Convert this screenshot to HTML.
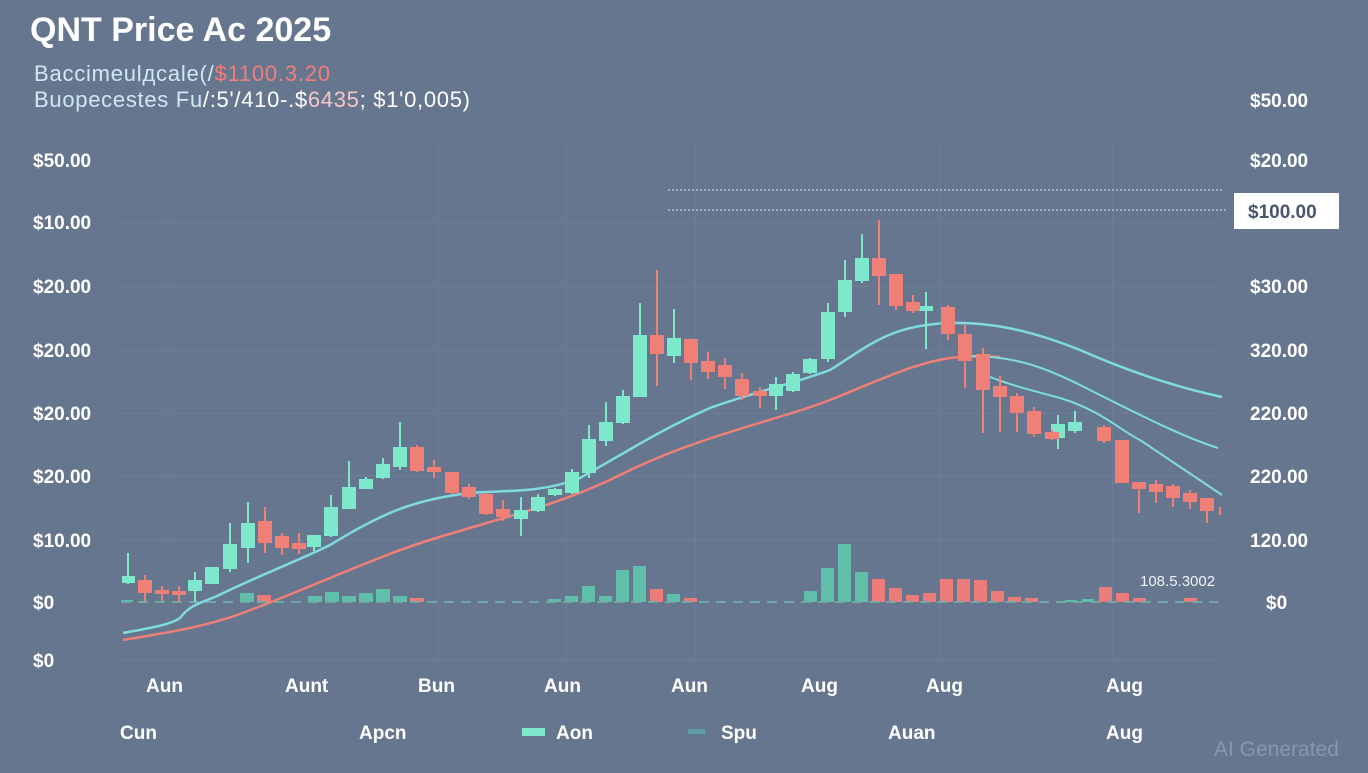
<!DOCTYPE html>
<html><head><meta charset="utf-8"><style>
html,body{margin:0;padding:0;}
body{width:1368px;height:768px;background:#66768f;overflow:hidden;font-family:"Liberation Sans",sans-serif;}
</style></head><body>
<svg width="1368" height="768" viewBox="0 0 1368 768" xmlns="http://www.w3.org/2000/svg" font-family="Liberation Sans, sans-serif">
<rect width="1368" height="768" fill="#66768f"/>
<g stroke="#6d7d96" stroke-width="1">
<line x1="120" y1="222" x2="1222" y2="222"/><line x1="120" y1="286" x2="1222" y2="286"/>
<line x1="120" y1="350" x2="1222" y2="350"/><line x1="120" y1="413" x2="1222" y2="413"/>
<line x1="120" y1="476" x2="1222" y2="476"/><line x1="120" y1="540" x2="1222" y2="540"/>
<line x1="120" y1="660" x2="1222" y2="660"/>
<line x1="168" y1="140" x2="168" y2="660"/><line x1="438" y1="140" x2="438" y2="660"/>
<line x1="566" y1="140" x2="566" y2="660"/><line x1="695" y1="140" x2="695" y2="660"/>
<line x1="940" y1="140" x2="940" y2="660"/><line x1="1113" y1="140" x2="1113" y2="660"/>
</g>
<text x="30" y="41" font-size="34" font-weight="bold" fill="#ffffff">QNT Price Ac 2025</text>
<text x="34" y="81" font-size="22" fill="#cfe8f2" textLength="296">Baccimeulдcale(/<tspan fill="#f07f78">$1100.3.20</tspan></text>
<text x="34" y="107" font-size="22" fill="#cfe8f2" textLength="436">Buopecestes Fu<tspan fill="#ffffff">/:5'/410-.$</tspan><tspan fill="#f4c6c6">6435</tspan><tspan fill="#ffffff">; $1'0,005)</tspan></text>
<g font-size="19" font-weight="bold" fill="#ffffff">
<text x="33" y="167">$50.00</text><text x="33" y="229">$10.00</text><text x="33" y="293">$20.00</text>
<text x="33" y="357">$20.00</text><text x="33" y="420">$20.00</text><text x="33" y="483">$20.00</text>
<text x="33" y="547">$10.00</text><text x="33" y="609">$0</text><text x="33" y="667">$0</text>
<text x="1250" y="107">$50.00</text><text x="1250" y="167">$20.00</text><text x="1250" y="293">$30.00</text>
<text x="1250" y="357">320.00</text><text x="1250" y="420">220.00</text><text x="1250" y="483">220.00</text>
<text x="1250" y="547">120.00</text><text x="1266" y="609">$0</text>
</g>
<line x1="668" y1="190" x2="1222" y2="190" stroke="#d8dde6" stroke-dasharray="2,2"/>
<line x1="668" y1="210" x2="1228" y2="210" stroke="#d8dde6" stroke-dasharray="2,2"/>
<rect x="1234" y="193" width="105" height="36" fill="#ffffff"/>
<text x="1248" y="218" font-size="19" font-weight="bold" fill="#4a5670">$100.00</text>
<text x="1140" y="586" font-size="15" fill="#eef1f6">108.5.3002</text>
<g fill="#5fbfa8">
<rect x="121" y="600" width="12" height="2"/><rect x="240" y="593" width="14" height="9"/>
<rect x="308" y="596" width="14" height="6"/><rect x="325" y="592" width="14" height="10"/><rect x="342" y="596" width="14" height="6"/>
<rect x="359" y="593" width="14" height="9"/><rect x="376" y="589" width="14" height="13"/><rect x="393" y="596" width="14" height="6"/>
<rect x="548" y="599" width="13" height="3"/><rect x="565" y="596" width="13" height="6"/><rect x="582" y="586" width="13" height="16"/>
<rect x="599" y="596" width="13" height="6"/><rect x="616" y="570" width="13" height="32"/><rect x="633" y="566" width="13" height="36"/>
<rect x="667" y="594" width="13" height="8"/><rect x="804" y="591" width="13" height="11"/><rect x="821" y="568" width="13" height="34"/>
<rect x="838" y="544" width="13" height="58"/><rect x="855" y="572" width="13" height="30"/>
<rect x="1065" y="600" width="12" height="2"/><rect x="1082" y="599" width="12" height="3"/>
</g>
<g fill="#ec7b7a">
<rect x="257" y="595" width="14" height="7"/><rect x="410" y="598" width="14" height="4"/>
<rect x="650" y="589" width="13" height="13"/><rect x="684" y="598" width="13" height="4"/>
<rect x="872" y="579" width="13" height="23"/><rect x="889" y="588" width="13" height="14"/><rect x="906" y="595" width="13" height="7"/>
<rect x="923" y="593" width="13" height="9"/><rect x="940" y="579" width="13" height="23"/><rect x="957" y="579" width="13" height="23"/>
<rect x="974" y="580" width="13" height="22"/><rect x="991" y="591" width="13" height="11"/><rect x="1008" y="597" width="13" height="5"/>
<rect x="1025" y="598" width="13" height="4"/><rect x="1099" y="587" width="13" height="15"/><rect x="1116" y="593" width="13" height="9"/>
<rect x="1133" y="598" width="13" height="4"/><rect x="1184" y="598" width="13" height="4"/>
</g>
<line x1="121" y1="602" x2="1218" y2="602" stroke="#6fa9a6" stroke-width="2" stroke-dasharray="10,7"/>
<path d="M123,640 C170,632 200,628 240,614 C300,592 380,555 430,540 C500,518 560,505 620,475 C700,435 780,420 830,400 C880,380 920,360 960,357 C975,356 985,356 1000,357" fill="none" stroke="#f07f78" stroke-width="2.5"/>
<path d="M123,633 C150,628 170,625 180,618 C190,605 200,603 215,597 C260,575 300,560 330,545 C380,515 410,500 470,493 C500,490 540,494 580,478 C630,450 660,430 710,408 C760,390 790,385 830,370 C870,345 890,325 950,323 C990,322 1030,330 1080,350 C1130,372 1180,388 1222,397" fill="none" stroke="#7fdbe0" stroke-width="2.5"/>
<path d="M960,356 C1010,355 1040,365 1080,385 C1130,410 1180,436 1218,448" fill="none" stroke="#7fdbe0" stroke-width="2"/>
<path d="M985,375 C1010,385 1030,390 1060,398 C1100,410 1120,430 1140,440 C1170,460 1200,480 1222,495" fill="none" stroke="#7fdbe0" stroke-width="2"/>
<g stroke="#7de8cc" stroke-width="2" fill="#7de8cc">
<line x1="128" y1="553" x2="128" y2="584"/><rect x="123" y="577" width="11" height="5"/>
<line x1="195" y1="572" x2="195" y2="602"/><rect x="189" y="581" width="12" height="9"/>
<line x1="212" y1="568" x2="212" y2="584"/><rect x="206" y="568" width="12" height="15"/>
<line x1="230" y1="523" x2="230" y2="572"/><rect x="224" y="545" width="12" height="23"/>
<line x1="248" y1="502" x2="248" y2="563"/><rect x="242" y="524" width="12" height="23"/>
<line x1="314" y1="535" x2="314" y2="551"/><rect x="308" y="536" width="12" height="10"/>
<line x1="331" y1="495" x2="331" y2="537"/><rect x="325" y="508" width="12" height="27"/>
<line x1="349" y1="461" x2="349" y2="508"/><rect x="343" y="488" width="12" height="20"/>
<line x1="366" y1="477" x2="366" y2="488"/><rect x="360" y="480" width="12" height="8"/>
<line x1="383" y1="458" x2="383" y2="479"/><rect x="377" y="465" width="12" height="12"/>
<line x1="400" y1="422" x2="400" y2="470"/><rect x="394" y="448" width="12" height="18"/>
<line x1="521" y1="497" x2="521" y2="536"/><rect x="515" y="511" width="12" height="7"/>
<line x1="538" y1="494" x2="538" y2="512"/><rect x="532" y="498" width="12" height="12"/>
<line x1="555" y1="488" x2="555" y2="496"/><rect x="549" y="490" width="12" height="4"/>
<line x1="572" y1="469" x2="572" y2="494"/><rect x="566" y="473" width="12" height="19"/>
<line x1="589" y1="425" x2="589" y2="478"/><rect x="583" y="440" width="12" height="32"/>
<line x1="606" y1="402" x2="606" y2="446"/><rect x="600" y="423" width="12" height="17"/>
<line x1="623" y1="390" x2="623" y2="424"/><rect x="617" y="397" width="12" height="25"/>
<line x1="640" y1="303" x2="640" y2="397"/><rect x="634" y="336" width="12" height="60"/>
<line x1="674" y1="309" x2="674" y2="363"/><rect x="668" y="339" width="12" height="16"/>
<line x1="776" y1="377" x2="776" y2="410"/><rect x="770" y="385" width="12" height="10"/>
<line x1="793" y1="372" x2="793" y2="392"/><rect x="787" y="375" width="12" height="15"/>
<line x1="810" y1="358" x2="810" y2="374"/><rect x="804" y="360" width="12" height="12"/>
<line x1="828" y1="303" x2="828" y2="362"/><rect x="822" y="313" width="12" height="45"/>
<line x1="845" y1="260" x2="845" y2="317"/><rect x="839" y="281" width="12" height="30"/>
<line x1="862" y1="234" x2="862" y2="283"/><rect x="856" y="259" width="12" height="21"/>
<line x1="926" y1="292" x2="926" y2="349"/><rect x="920" y="307" width="12" height="3"/>
<line x1="1058" y1="415" x2="1058" y2="449"/><rect x="1052" y="425" width="12" height="12"/>
<line x1="1075" y1="411" x2="1075" y2="433"/><rect x="1069" y="423" width="12" height="7"/>
</g>
<g stroke="#f07f78" stroke-width="2" fill="#f07f78">
<line x1="145" y1="575" x2="145" y2="601"/><rect x="139" y="581" width="12" height="11"/>
<line x1="162" y1="586" x2="162" y2="601"/><rect x="156" y="591" width="12" height="2"/>
<line x1="179" y1="586" x2="179" y2="602"/><rect x="173" y="592" width="12" height="2"/>
<line x1="265" y1="507" x2="265" y2="553"/><rect x="259" y="522" width="12" height="20"/>
<line x1="282" y1="533" x2="282" y2="555"/><rect x="276" y="537" width="12" height="10"/>
<line x1="299" y1="533" x2="299" y2="554"/><rect x="293" y="544" width="12" height="4"/>
<line x1="417" y1="445" x2="417" y2="472"/><rect x="411" y="448" width="12" height="22"/>
<line x1="434" y1="460" x2="434" y2="478"/><rect x="428" y="468" width="12" height="3"/>
<line x1="452" y1="472" x2="452" y2="494"/><rect x="446" y="473" width="12" height="19"/>
<line x1="469" y1="484" x2="469" y2="499"/><rect x="463" y="488" width="12" height="8"/>
<line x1="486" y1="493" x2="486" y2="515"/><rect x="480" y="495" width="12" height="18"/>
<line x1="503" y1="500" x2="503" y2="521"/><rect x="497" y="510" width="12" height="6"/>
<line x1="657" y1="270" x2="657" y2="386"/><rect x="651" y="336" width="12" height="17"/>
<line x1="691" y1="352" x2="691" y2="380"/><rect x="685" y="340" width="12" height="22"/>
<line x1="708" y1="352" x2="708" y2="379"/><rect x="702" y="362" width="12" height="9"/>
<line x1="725" y1="358" x2="725" y2="389"/><rect x="719" y="366" width="12" height="10"/>
<line x1="742" y1="373" x2="742" y2="400"/><rect x="736" y="380" width="12" height="15"/>
<line x1="760" y1="387" x2="760" y2="408"/><rect x="754" y="392" width="12" height="3"/>
<line x1="879" y1="220" x2="879" y2="305"/><rect x="873" y="259" width="12" height="16"/>
<line x1="896" y1="275" x2="896" y2="310"/><rect x="890" y="275" width="12" height="30"/>
<line x1="913" y1="295" x2="913" y2="313"/><rect x="907" y="303" width="12" height="7"/>
<line x1="948" y1="305" x2="948" y2="340"/><rect x="942" y="308" width="12" height="25"/>
<line x1="965" y1="325" x2="965" y2="388"/><rect x="959" y="335" width="12" height="25"/>
<line x1="983" y1="348" x2="983" y2="433"/><rect x="977" y="355" width="12" height="34"/>
<line x1="1000" y1="376" x2="1000" y2="432"/><rect x="994" y="387" width="12" height="9"/>
<line x1="1017" y1="393" x2="1017" y2="432"/><rect x="1011" y="397" width="12" height="15"/>
<line x1="1034" y1="407" x2="1034" y2="437"/><rect x="1028" y="412" width="12" height="21"/>
<line x1="1052" y1="430" x2="1052" y2="440"/><rect x="1046" y="433" width="12" height="5"/>
<line x1="1104" y1="425" x2="1104" y2="443"/><rect x="1098" y="428" width="12" height="12"/>
<line x1="1122" y1="441" x2="1122" y2="483"/><rect x="1116" y="441" width="12" height="41"/>
<line x1="1139" y1="483" x2="1139" y2="513"/><rect x="1133" y="483" width="12" height="5"/>
<line x1="1156" y1="480" x2="1156" y2="503"/><rect x="1150" y="485" width="12" height="6"/>
<line x1="1173" y1="484" x2="1173" y2="507"/><rect x="1167" y="487" width="12" height="10"/>
<line x1="1190" y1="490" x2="1190" y2="509"/><rect x="1184" y="494" width="12" height="7"/>
<line x1="1207" y1="499" x2="1207" y2="523"/><rect x="1201" y="499" width="12" height="11"/>
<line x1="1220" y1="507" x2="1220" y2="515"/>
</g>
<g font-size="19" font-weight="bold" fill="#ffffff">
<text x="146" y="692">Aun</text><text x="285" y="692">Aunt</text><text x="418" y="692">Bun</text>
<text x="544" y="692">Aun</text><text x="671" y="692">Aun</text><text x="801" y="692">Aug</text>
<text x="926" y="692">Aug</text><text x="1106" y="692">Aug</text>
<text x="120" y="739">Cun</text><text x="359" y="739">Apcn</text><text x="556" y="739">Aon</text>
<text x="721" y="739">Spu</text><text x="888" y="739">Auan</text><text x="1106" y="739">Aug</text>
</g>
<rect x="522" y="728" width="23" height="8" fill="#7de8cc"/>
<rect x="688" y="729" width="17" height="5" fill="#5f9fa4"/>
<text x="1214" y="756" font-size="21" fill="#8996ab">AI Generated</text>
</svg>
</body></html>
